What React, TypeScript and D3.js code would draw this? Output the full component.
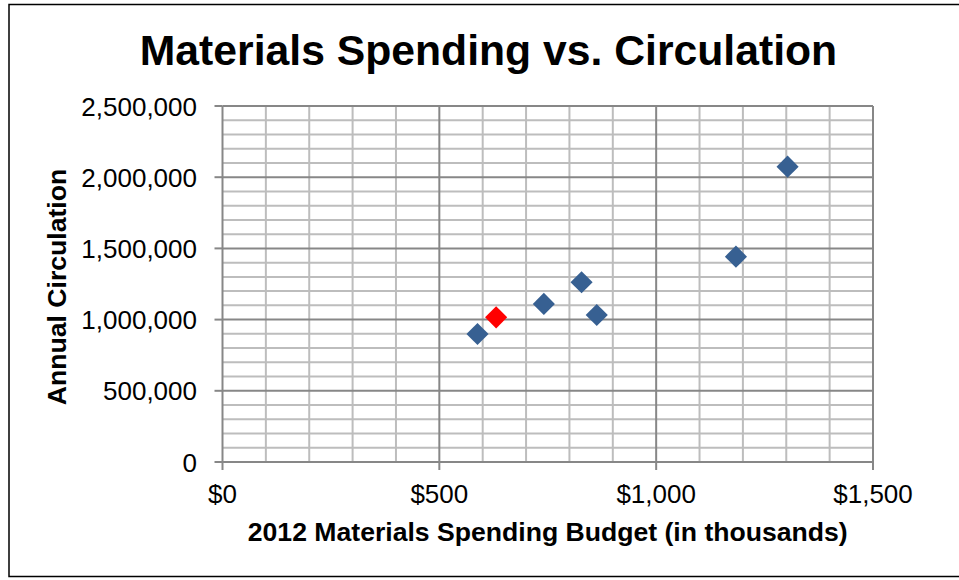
import React from "react";
import * as d3 from "d3";

// Library materials budget (in $ thousands) and annual circulation
const budgets = [588, 741, 828, 863, 1184, 1303];
const circulation = [899000, 1110000, 1262000, 1032000, 1442000, 2074000];

// Highlighted library
const highlightBudget = [631];
const highlightCirculation = [1016000];

const xTicks = [0, 500, 1000, 1500];
const yTicks = [0, 500000, 1000000, 1500000, 2000000, 2500000];

const title = "Materials Spending vs. Circulation";
const xTitle = "2012 Materials Spending Budget (in thousands)";
const yTitle = "Annual Circulation";

const W = 959;
const H = 580;
const FONT = "'Liberation Sans', Arial, sans-serif";

export default function App() {
  const x = d3.scaleLinear().domain([0, 1500]).range([222.5, 873]);
  const y = d3.scaleLinear().domain([0, 2500000]).range([462, 106]);

  const xMinor = d3.range(0, 1501, 100).filter((v) => v % 500 !== 0);
  const yMinor = d3.range(0, 2500001, 100000).filter((v) => v % 500000 !== 0);

  const diamond = d3.symbol(d3.symbolSquare, 245)()!;
  const fmtY = d3.format(",");
  const fmtX = (v: number) => "$" + d3.format(",")(v);

  const [x0, x1] = x.range();
  const [y0, y1] = y.range();

  return (
    <div style={{ position: "absolute", left: 0, top: 0 }}>
      <svg width={W} height={H} style={{ display: "block", background: "#fff" }}>
        <rect x={9} y={4.5} width={960} height={572} fill="#fff" stroke="#000" strokeWidth={1.5} />

        <text x={488.5} y={65} textAnchor="middle" fontFamily={FONT} fontWeight="bold" fontSize={42.7} fill="#000">
          {title}
        </text>

        {/* minor gridlines */}
        <g stroke="#bdbdbd" strokeWidth={2}>
          {xMinor.map((v) => (
            <line key={"xm" + v} x1={x(v)} x2={x(v)} y1={y1} y2={y0} />
          ))}
          {yMinor.map((v) => (
            <line key={"ym" + v} x1={x0} x2={x1} y1={y(v)} y2={y(v)} />
          ))}
        </g>

        {/* major gridlines */}
        <g stroke="#878787" strokeWidth={2}>
          {xTicks.map((v) => (
            <line key={"xM" + v} x1={x(v)} x2={x(v)} y1={y1} y2={y0} />
          ))}
          {yTicks.map((v) => (
            <line key={"yM" + v} x1={x0} x2={x1} y1={y(v)} y2={y(v)} />
          ))}
        </g>

        {/* axis tick marks */}
        <g stroke="#878787" strokeWidth={2}>
          {xTicks.map((v) => (
            <line key={"xt" + v} x1={x(v)} x2={x(v)} y1={y0} y2={y0 + 8} />
          ))}
          {yTicks.map((v) => (
            <line key={"yt" + v} x1={x0 - 8} x2={x0} y1={y(v)} y2={y(v)} />
          ))}
        </g>

        {/* tick labels */}
        <g fontFamily={FONT} fontSize={26} fill="#000">
          {xTicks.map((v) => (
            <text key={"xl" + v} x={x(v)} y={503} textAnchor="middle">
              {fmtX(v)}
            </text>
          ))}
          {yTicks.map((v) => (
            <text key={"yl" + v} x={197} y={y(v) + 9.5} textAnchor="end">
              {fmtY(v)}
            </text>
          ))}
        </g>

        {/* axis titles */}
        <text x={(x0 + x1) / 2} y={541} textAnchor="middle" fontFamily={FONT} fontWeight="bold" fontSize={26.6} fill="#000">
          {xTitle}
        </text>
        <text
          transform={`translate(66,${(y0 + y1) / 2 + 3}) rotate(-90)`}
          textAnchor="middle"
          fontFamily={FONT}
          fontWeight="bold"
          fontSize={26.6}
          fill="#000"
        >
          {yTitle}
        </text>

        {/* data points */}
        <g fill="#376092">
          {budgets.map((b, i) => (
            <path key={"p" + i} d={diamond} transform={`translate(${x(b)},${y(circulation[i])}) rotate(45)`} />
          ))}
        </g>
        <g fill="#ff0000">
          {highlightBudget.map((b, i) => (
            <path key={"h" + i} d={diamond} transform={`translate(${x(b)},${y(highlightCirculation[i])}) rotate(45)`} />
          ))}
        </g>
      </svg>
    </div>
  );
}
